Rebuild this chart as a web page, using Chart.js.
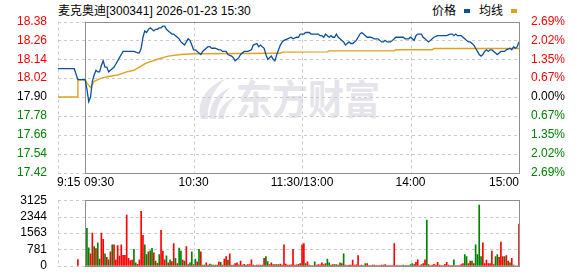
<!DOCTYPE html>
<html>
<head>
<meta charset="utf-8">
<script src="https://cdn.jsdelivr.net/npm/chart.js@4.4.1/dist/chart.umd.min.js"></script>
<style>
  body { margin: 0; width: 578px; height: 276px; overflow: hidden; position: relative; background: #fff;
         font-family: "Liberation Sans", Arial, "Noto Sans CJK SC", sans-serif; }
  #title { position: absolute; left: 58px; top: 1px; font-size: 12px; color: #000; white-space: nowrap; }
  #legend { position: absolute; left: 432px; top: 1px; font-size: 12px; color: #000; white-space: nowrap; }
  #legend i { display: inline-block; width: 6px; height: 4px; margin: 0 9px 2px 8px; vertical-align: middle; }
  #mark { position: absolute; left: 236px; top: 76px; font-size: 36px; line-height: 36px; font-weight: 700; color: #e4e4ea;
          font-family: "Noto Sans CJK SC", sans-serif; white-space: nowrap; transform: scaleY(1.12); transform-origin: 0 0; }
  #logo { position: absolute; left: 196px; top: 78px; }
  canvas { position: absolute; left: 0; }
  #price { top: 0; }
  #vol { top: 190px; }
</style>
</head>
<body>
<svg id="logo" width="40" height="42" viewBox="0 0 40 42">
  <g fill="#e4e4ea">
    <path d="M5 41 C 0 26, 9 9, 29 1 C 17 12, 11 26, 12 41 Z"/>
    <path d="M14 41 C 12 29, 19 16, 35 9 C 25 18, 20 29, 20 41 Z"/>
    <path d="M22 41 C 22 32, 28 24, 39 19 C 32 26, 28 33, 28 41 Z"/>
  </g>
</svg>
<div id="mark">东方财富</div>
<div id="title">麦克奥迪[300341] 2026-01-23 15:30</div>
<div id="legend">价格<i style="background:#0b4f9f"></i>均线<i style="background:#e0a21e"></i></div>
<canvas id="price" width="578" height="190"></canvas>
<canvas id="vol" width="578" height="86"></canvas>
<script>
// minutes counted from 09:30 (11:30 and 13:00 share minute 120, 15:00 = 240)
var timeTicks = [-15, 0, 60, 120, 180, 240];
var timeLabels = ['9:15', '09:30', '10:30', '11:30/13:00', '14:00', '15:00'];
var timeAlign = ['left', 'left', 'center', 'center', 'center', 'right'];
var priceTicks = [18.38, 18.26, 18.14, 18.02, 17.90, 17.78, 17.66, 17.54, 17.42];
var pctLabels = ['2.69%', '2.02%', '1.35%', '0.67%', '0.00%', '0.67%', '1.35%', '2.02%', '2.69%'];
var preClose = 17.90;
var volTicks = [0, 781.25, 1562.5, 2343.75, 3125];
var volLabels = ['0', '781', '1563', '2344', '3125'];

// call auction 9:15 - 9:30
var preMin = [-15, -6, -4, 0];
var prePrice = [18.08, 18.08, 18.01, 18.01];
var preAvgMin = [-15, -4, -4, 0];
var preAvg = [17.90, 17.90, 18.01, 18.01];

var priceMin = [0, 1, 2, 3, 4, 5, 6, 7, 8, 9, 10, 11, 12, 13, 14, 15, 16, 17, 18, 19, 20, 21, 23, 25, 27, 29, 30,
  31, 32, 33, 34, 35, 36, 37, 38, 39, 40, 41, 42, 43, 44, 45, 46, 47, 48, 49, 50, 51, 52, 53, 54, 55, 56, 57, 58, 59, 60,
  61, 62, 63, 64, 65, 66, 67, 68, 69, 70, 72, 74, 75, 76, 78, 79, 81, 82, 83, 84, 85, 86, 88, 90,
  92, 93, 95, 96, 97, 98, 99, 100, 101, 102, 103, 104, 105, 106, 107, 108, 109, 110, 112, 114, 115, 117, 118, 119, 120,
  121, 122, 123, 124, 125, 126, 127, 128, 129, 130, 131, 132, 133, 134, 135, 136, 137, 138, 139, 140,
  141, 142, 143, 144, 145, 146, 147, 148, 149, 150, 151, 152, 153, 154, 155, 156, 158, 160, 162, 163, 164, 165,
  166, 167, 169, 170, 171, 172, 174, 176, 177, 179, 180, 181, 182, 183, 184, 186, 187, 188, 189, 190,
  191, 192, 193, 195, 198, 200, 202, 203, 204, 205, 206, 208, 209, 210, 211, 212, 213, 214, 215, 216, 217, 218, 219, 220,
  221, 222, 223, 224, 225, 226, 227, 228, 229, 230, 232, 233, 235, 236, 237, 238, 239, 240];
var priceVal = [18.01, 17.95, 17.87, 17.90, 18.00, 18.04, 18.07, 18.06, 18.06, 18.10, 18.13, 18.09, 18.09, 18.06, 18.07, 18.08, 18.09, 18.11, 18.13, 18.15, 18.17, 18.19, 18.19, 18.19, 18.19, 18.18, 18.18,
  18.21, 18.28, 18.32, 18.31, 18.33, 18.34, 18.33, 18.32, 18.33, 18.33, 18.34, 18.34, 18.35, 18.35, 18.33, 18.32, 18.31, 18.30, 18.30, 18.29, 18.28, 18.27, 18.25, 18.24, 18.23, 18.25, 18.27, 18.26, 18.23, 18.20,
  18.20, 18.19, 18.18, 18.17, 18.19, 18.20, 18.21, 18.22, 18.22, 18.21, 18.21, 18.20, 18.20, 18.19, 18.19, 18.17, 18.16, 18.15, 18.13, 18.14, 18.15, 18.17, 18.19, 18.19,
  18.20, 18.23, 18.24, 18.22, 18.23, 18.22, 18.21, 18.17, 18.14, 18.15, 18.16, 18.14, 18.13, 18.17, 18.20, 18.23, 18.25, 18.26, 18.27, 18.28, 18.27, 18.28, 18.28, 18.30, 18.30,
  18.30, 18.31, 18.31, 18.31, 18.30, 18.30, 18.30, 18.30, 18.30, 18.29, 18.29, 18.28, 18.30, 18.29, 18.28, 18.29, 18.28, 18.28, 18.30, 18.28,
  18.27, 18.26, 18.25, 18.23, 18.24, 18.25, 18.24, 18.24, 18.25, 18.26, 18.28, 18.30, 18.31, 18.30, 18.29, 18.28, 18.28, 18.27, 18.27, 18.26, 18.25, 18.25,
  18.26, 18.25, 18.25, 18.26, 18.27, 18.28, 18.28, 18.28, 18.27, 18.27, 18.28, 18.27, 18.26, 18.29, 18.30, 18.30, 18.28, 18.27, 18.26, 18.25,
  18.26, 18.27, 18.28, 18.29, 18.29, 18.29, 18.30, 18.30, 18.29, 18.30, 18.29, 18.29, 18.28, 18.27, 18.26, 18.25, 18.25, 18.24, 18.23, 18.21, 18.19, 18.17, 18.16, 18.17,
  18.19, 18.20, 18.19, 18.20, 18.20, 18.19, 18.18, 18.17, 18.18, 18.19, 18.19, 18.20, 18.21, 18.20, 18.22, 18.21, 18.22, 18.25];

var avgMin = [0, 1, 3, 5, 9, 13, 18, 23, 27, 30, 33, 35, 40, 46, 53, 60, 108, 109, 134, 135, 171, 172, 192, 193, 240];
var avgVal = [18.01, 17.99, 17.96, 18.00, 18.02, 18.03, 18.04, 18.06, 18.07, 18.09, 18.11, 18.12, 18.14, 18.16, 18.17, 18.175,
  18.178, 18.185, 18.187, 18.193, 18.193, 18.200, 18.200, 18.208, 18.208];

// volume per minute, 1 = up (red), 0 = down (green)
var auctionVol = 300;
var amVol = [1780, 860, 570, 1560, 920, 820, 1090, 315, 1560, 1260, 570, 400, 290, 660, 1000, 1000, 290, 960, 460, 1000,
  500, 500, 2420, 360, 245, 270, 790, 145, 70, 290, 2590, 1450, 1000, 530, 670, 715, 830, 615, 230, 115,
  530, 1690, 700, 290, 470, 145, 290, 200, 1060, 360, 100, 845, 700, 270, 230, 920, 55, 145, 660, 55,
  315, 185, 790, 660, 30, 30, 145, 30, 85, 45, 30, 30, 30, 185, 160, 30, 315, 445, 270, 570,
  30, 30, 100, 145, 45, 230, 30, 70, 30, 55, 55, 290, 30, 15, 30, 30, 30, 30, 360, 445,
  200, 55, 145, 55, 55, 55, 55, 85, 30, 1000, 85, 30, 30, 45, 790, 30, 45, 70, 100, 1000];
var amUp = [0, 0, 1, 1, 0, 1, 0, 0, 1, 1, 0, 1, 0, 1, 0, 1, 1, 1, 1, 1,
  1, 1, 1, 1, 1, 1, 0, 0, 1, 1, 1, 1, 0, 0, 1, 0, 0, 1, 0, 1,
  0, 1, 1, 1, 0, 1, 0, 1, 1, 0, 1, 0, 0, 1, 0, 1, 1, 0, 0, 1,
  0, 1, 0, 1, 0, 0, 1, 1, 0, 1, 0, 0, 1, 1, 0, 1, 1, 1, 0, 1,
  0, 1, 1, 1, 0, 1, 1, 1, 0, 1, 1, 1, 1, 0, 1, 1, 0, 1, 1, 0,
  0, 1, 1, 1, 0, 1, 0, 1, 1, 1, 1, 1, 1, 1, 1, 1, 1, 1, 0, 1];
var pmVol = [1060, 100, 185, 30, 15, 15, 185, 30, 55, 45, 145, 55, 100, 315, 145, 30, 55, 55, 55, 30,
  145, 100, 570, 30, 15, 30, 30, 270, 30, 45, 490, 15, 30, 15, 100, 100, 15, 15, 30, 30,
  15, 15, 15, 30, 30, 55, 15, 15, 15, 15, 1060, 15, 15, 15, 15, 30, 15, 15, 15, 55,
  100, 55, 160, 290, 15, 55, 100, 290, 2180, 55, 15, 30, 70, 30, 160, 30, 15, 15, 70, 160,
  30, 15, 15, 290, 15, 15, 15, 55, 100, 530, 445, 100, 230, 230, 100, 1000, 530, 2895, 445, 1090,
  100, 270, 100, 100, 700, 55, 445, 530, 400, 1130, 445, 445, 490, 230, 145, 360, 30, 0, 0, 1990];
var pmUp = [1, 0, 1, 1, 0, 1, 0, 1, 1, 1, 1, 0, 1, 0, 0, 1, 1, 0, 1, 0,
  0, 1, 0, 1, 0, 1, 1, 1, 1, 1, 1, 1, 0, 1, 0, 1, 1, 1, 0, 1,
  1, 1, 1, 1, 1, 1, 1, 1, 1, 1, 1, 1, 1, 1, 1, 0, 1, 1, 1, 0,
  0, 1, 1, 1, 1, 0, 1, 1, 0, 1, 1, 1, 1, 1, 1, 1, 1, 0, 1, 1,
  1, 1, 1, 0, 1, 1, 1, 1, 1, 0, 0, 1, 1, 0, 1, 0, 0, 0, 0, 1,
  1, 1, 1, 1, 1, 1, 0, 0, 1, 1, 1, 0, 1, 1, 0, 1, 0, 1, 1, 1];

var RED = '#ff0000', GREEN = '#008000', GRID = '#cbcbcb', FRAME = '#8e8e8e';
var tickFont = { family: '"Liberation Sans", Arial, sans-serif', size: 12 };

function pts(xs, ys) { return xs.map(function (x, i) { return { x: x, y: ys[i] }; }); }

// dashed grid on the whole area, solid frame on the 09:30 - 15:00 session
var frame = {
  id: 'frame',
  beforeDatasetsDraw: function (chart) {
    var ctx = chart.ctx, a = chart.chartArea, xs = chart.scales.x, ys = chart.scales.y;
    ctx.save();
    ctx.lineWidth = 1;
    ctx.strokeStyle = GRID;
    ctx.setLineDash([3, 3]);
    ys.ticks.forEach(function (t) {
      var y = Math.round(ys.getPixelForValue(t.value)) + 0.5;
      ctx.beginPath(); ctx.moveTo(a.left, y); ctx.lineTo(a.right, y); ctx.stroke();
    });
    timeTicks.forEach(function (t) {
      var x = Math.round(xs.getPixelForValue(t)) + 0.5;
      ctx.beginPath(); ctx.moveTo(x, a.top); ctx.lineTo(x, a.bottom); ctx.stroke();
    });
    ctx.setLineDash([]);
    ctx.strokeStyle = FRAME;
    var l = Math.round(xs.getPixelForValue(0)) + 0.5, r = Math.round(xs.getPixelForValue(240)) + 0.5;
    var t = Math.round(a.top) + 0.5, b = Math.round(a.bottom) + 0.5;
    ctx.strokeRect(l, t, r - l, b - t);
    ctx.restore();
  }
};

// time labels: first two start at their line, last one ends at its line
var timeAxis = {
  id: 'timeAxis',
  afterDraw: function (chart) {
    var ctx = chart.ctx, xs = chart.scales.x;
    ctx.save();
    ctx.font = '12px "Liberation Sans", Arial, sans-serif';
    ctx.fillStyle = '#000';
    ctx.textBaseline = 'top';
    timeTicks.forEach(function (t, i) {
      var x = xs.getPixelForValue(t);
      ctx.textAlign = timeAlign[i];
      ctx.fillText(timeLabels[i], timeAlign[i] === 'left' ? x - 1 : x, chart.chartArea.bottom + 4);
    });
    ctx.restore();
  }
};

function priceColor(v) {
  if (v > preClose + 0.001) return RED;
  if (v < preClose - 0.001) return GREEN;
  return '#000';
}

new Chart(document.getElementById('price'), {
  type: 'line',
  data: {
    datasets: [{
      data: pts(preMin, prePrice).concat(pts(priceMin, priceVal)),
      borderColor: '#0b4f9f', borderWidth: 1.3, pointRadius: 0, tension: 0
    }, {
      data: pts(preAvgMin, preAvg).concat(pts(avgMin, avgVal)),
      borderColor: '#e0a21e', borderWidth: 1.4, pointRadius: 0, tension: 0
    }]
  },
  options: {
    responsive: false, animation: false, events: [],
    layout: { padding: { top: 21.5, left: 0, right: 0, bottom: 0 } },
    plugins: { legend: { display: false }, tooltip: { enabled: false } },
    scales: {
      x: {
        type: 'linear', min: -15, max: 240,
        grid: { display: false }, border: { display: false },
        afterBuildTicks: function (s) { s.ticks = timeTicks.map(function (v) { return { value: v }; }); },
        afterFit: function (s) { s.height = 17.5; },
        ticks: { display: false }
      },
      y: {
        position: 'left', min: 17.42, max: 18.38,
        grid: { display: false }, border: { display: false },
        afterBuildTicks: function (s) { s.ticks = priceTicks.map(function (v) { return { value: v }; }); },
        afterFit: function (s) { s.width = 58; },
        ticks: { autoSkip: false, padding: 3, font: tickFont,
          color: function (c) { return priceColor(c.tick.value); },
          callback: function (v) { return v.toFixed(2); } }
      },
      y2: {
        position: 'right', min: 17.42, max: 18.38,
        grid: { display: false }, border: { display: false },
        afterBuildTicks: function (s) { s.ticks = priceTicks.map(function (v) { return { value: v }; }); },
        afterFit: function (s) { s.width = 59; },
        ticks: { autoSkip: false, padding: 4, font: tickFont,
          color: function (c) { return priceColor(c.tick.value); },
          callback: function (v, i) { return pctLabels[i]; } }
      }
    }
  },
  plugins: [frame, timeAxis]
});

var volData = [{ x: -4, y: auctionVol }], volColors = [RED];
amVol.forEach(function (v, i) { volData.push({ x: i + 1, y: v }); volColors.push(amUp[i] ? RED : GREEN); });
pmVol.forEach(function (v, i) { volData.push({ x: 121 + i, y: v }); volColors.push(pmUp[i] ? RED : GREEN); });

new Chart(document.getElementById('vol'), {
  type: 'bar',
  data: {
    datasets: [{ data: volData, backgroundColor: volColors, barThickness: 1, borderWidth: 0 }]
  },
  options: {
    responsive: false, animation: false, events: [],
    layout: { padding: { top: 6.7, bottom: 6.7, left: 0, right: 59 } },
    plugins: { legend: { display: false }, tooltip: { enabled: false } },
    scales: {
      x: { type: 'linear', min: -15, max: 240, offset: false, display: false },
      y: {
        min: 0, max: 3125,
        grid: { display: false }, border: { display: false },
        afterBuildTicks: function (s) { s.ticks = volTicks.map(function (v) { return { value: v }; }); },
        afterFit: function (s) { s.width = 58; },
        ticks: { autoSkip: false, padding: 3, color: '#000', font: tickFont,
          callback: function (v, i) { return volLabels[i]; } }
      }
    }
  },
  plugins: [frame]
});
</script>
</body>
</html>
